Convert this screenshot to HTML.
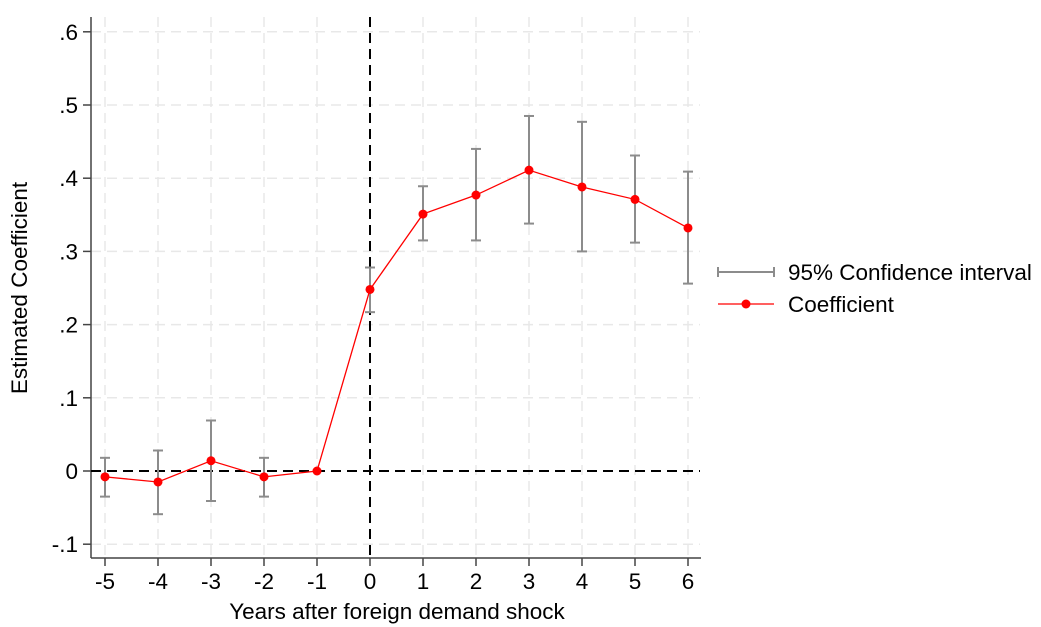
<!DOCTYPE html>
<html><head><meta charset="utf-8"><style>body{margin:0;background:#fff}svg{display:block;font-family:"Liberation Sans",Arial,sans-serif}</style></head>
<body>
<svg id="c" width="1041" height="627"></svg>
<script>
const years=[-5,-4,-3,-2,-1,0,1,2,3,4,5,6];
const coef=[-0.008,-0.015,0.014,-0.008,0,0.248,0.351,0.377,0.411,0.388,0.371,0.332];
const ciLow=[-0.035,-0.059,-0.041,-0.035,null,0.217,0.315,0.315,0.338,0.300,0.312,0.256];
const ciHigh=[0.018,0.028,0.069,0.018,null,0.278,0.389,0.440,0.485,0.477,0.431,0.409];
const yTicks=[-0.1,0,0.1,0.2,0.3,0.4,0.5,0.6];
const yLabels=["-.1","0",".1",".2",".3",".4",".5",".6"];
const xTicks=[-5,-4,-3,-2,-1,0,1,2,3,4,5,6];
const svg=document.getElementById('c');const NS='http://www.w3.org/2000/svg';
const FS=22.5;
const X=v=>370+(v)*53;const Y=v=>471-v*732;
function mk(t,a,p){const e=document.createElementNS(NS,t);for(const k in a)e.setAttribute(k,a[k]);(p||svg).appendChild(e);return e;}
const grid=mk('g',{});


yTicks.forEach(v=>mk('line',{x1:91,x2:700,y1:Y(v),y2:Y(v),stroke:'#e8e8e8','stroke-width':1.5,'stroke-dasharray':'10,6'},grid));
xTicks.forEach(v=>mk('line',{x1:X(v),x2:X(v),y1:17,y2:558,stroke:'#e8e8e8','stroke-width':1.5,'stroke-dasharray':'10,6'},grid));
const axY=mk('line',{x1:91,x2:91,y1:17,y2:558,stroke:'#444','stroke-width':1.5});


const axX=mk('line',{x1:91,x2:701,y1:558,y2:558,stroke:'#444','stroke-width':1.5});


yTicks.forEach((v,i)=>{mk('line',{x1:83,x2:91,y1:Y(v),y2:Y(v),stroke:'#444','stroke-width':1.5});
const t=mk('text',{x:78,y:Y(v)+8,'text-anchor':'end','font-size':FS,fill:'#000'});t.textContent=yLabels[i];

});
xTicks.forEach(v=>{mk('line',{x1:X(v),x2:X(v),y1:558,y2:566,stroke:'#444','stroke-width':1.5});
const t=mk('text',{x:X(v),y:589,'text-anchor':'middle','font-size':FS,fill:'#000'});t.textContent=v;

});
const vref=mk('line',{x1:X(0),x2:X(0),y1:17,y2:558,stroke:'#000','stroke-width':2,'stroke-dasharray':'10,6'});


const href=mk('line',{x1:91,x2:700,y1:Y(0),y2:Y(0),stroke:'#000','stroke-width':2,'stroke-dasharray':'10,6'});


years.forEach((yr,i)=>{if(ciLow[i]===null)return;const g=mk('g',{stroke:'#8c8c8c','stroke-width':2});


mk('line',{x1:X(yr),x2:X(yr),y1:Y(ciLow[i]),y2:Y(ciHigh[i])},g);
mk('line',{x1:X(yr)-5,x2:X(yr)+5,y1:Y(ciLow[i]),y2:Y(ciLow[i])},g);
mk('line',{x1:X(yr)-5,x2:X(yr)+5,y1:Y(ciHigh[i]),y2:Y(ciHigh[i])},g);});
const ln=mk('polyline',{points:years.map((yr,i)=>X(yr)+','+Y(coef[i])).join(' '),fill:'none',stroke:'#ff0000','stroke-width':1.3});


years.forEach((yr,i)=>{const c=mk('circle',{cx:X(yr),cy:Y(coef[i]),r:4.5,fill:'#ff0000'});

});
const yt=mk('text',{x:27,y:288,'text-anchor':'middle','font-size':FS,transform:'rotate(-90 27 288)'});yt.textContent='Estimated Coefficient';


const xt=mk('text',{x:397,y:619,'text-anchor':'middle','font-size':FS});xt.textContent='Years after foreign demand shock';


const l1=mk('g',{});


mk('line',{x1:718,x2:774,y1:272,y2:272,stroke:'#8c8c8c','stroke-width':2},l1);
mk('line',{x1:718,x2:718,y1:267,y2:277,stroke:'#8c8c8c','stroke-width':2},l1);
mk('line',{x1:774,x2:774,y1:267,y2:277,stroke:'#8c8c8c','stroke-width':2},l1);
const lt1=mk('text',{x:788,y:280,'font-size':FS},l1);lt1.textContent='95% Confidence interval';
const l2=mk('g',{});


mk('line',{x1:718,x2:774,y1:304,y2:304,stroke:'#ff0000','stroke-width':1.3},l2);
mk('circle',{cx:746,cy:304,r:4.5,fill:'#ff0000'},l2);
const lt2=mk('text',{x:788,y:312,'font-size':FS},l2);lt2.textContent='Coefficient';
</script>
</body></html>
